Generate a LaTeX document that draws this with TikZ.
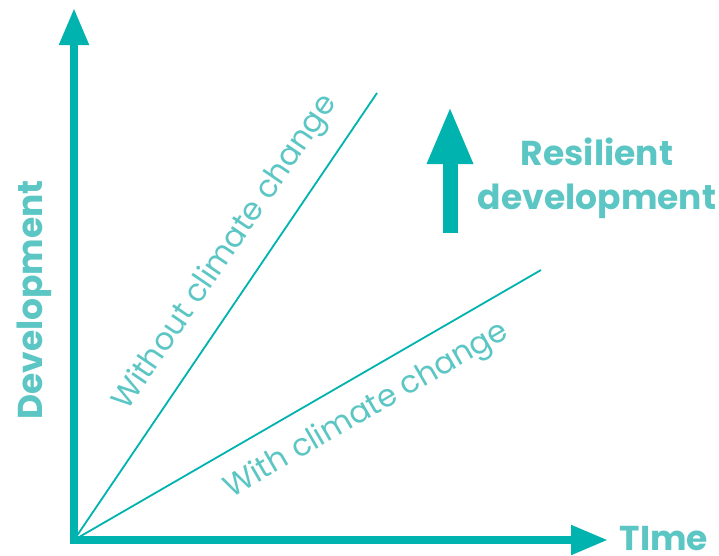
\documentclass[tikz,border=0pt]{standalone}
\usepackage{fontspec}
\setmainfont{Poppins}
\usetikzlibrary{arrows.meta}
\definecolor{axisc}{HTML}{00B3AF}
\definecolor{textc}{HTML}{5CC6C4}
\begin{document}
\begin{tikzpicture}[x=1pt,y=-1pt,
  axis/.style={draw=axisc,line width=8pt,-{Triangle[length=37pt,width=28pt]}},
  trend/.style={draw=axisc,line width=1.8pt},
  bigtext/.style={text=textc,font=\fontsize{34.5}{44}\selectfont\bfseries,inner sep=0pt},
  linetext/.style={text=textc,font=\fontsize{31}{34}\selectfont,inner sep=0pt}]
\useasboundingbox (0,0) rectangle (719,555);
\coordinate (origin) at (74,540);
\coordinate (ybase) at (74,544);
\coordinate (ytip) at (74,8);
\coordinate (xbase) at (70,540);
\coordinate (xtip) at (608,540);
\coordinate (wend) at (377,93);
\coordinate (cend) at (541,270);
\coordinate (rbase) at (450,233);
\coordinate (rtip) at (450,106);
\draw[axis] (ybase) -- (ytip);
\draw[axis] (xbase) -- (xtip);
\draw[trend] (origin) -- (wend);
\draw[trend] (origin) -- (cend);
\draw[draw=axisc,line width=15pt,-{Triangle[length=58pt,width=42pt]}] (rbase) -- (rtip);
\node[bigtext,rotate=90] (dev) at (34,300) {Development};
\node[bigtext] (time) at (664,539) {TIme};
\node[bigtext,align=center] (res) at (597,178) {Resilient\\development};
\node[linetext,rotate=55.8] (without) at (226,253) {Without climate change};
\node[linetext,rotate=30] (with) at (367,411) {With climate change};
\end{tikzpicture}
\end{document}
